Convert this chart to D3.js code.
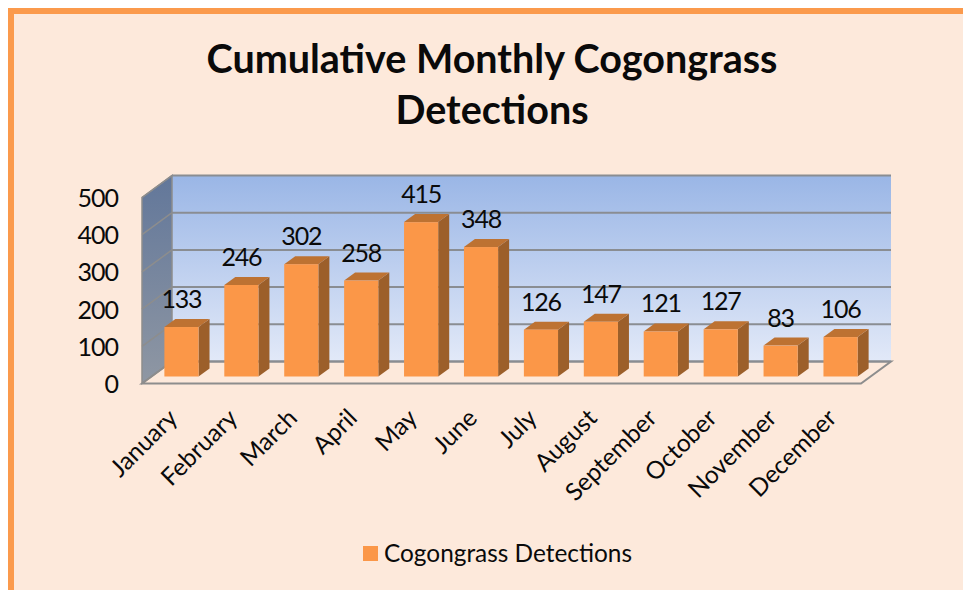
<!DOCTYPE html>
<html>
<head>
<meta charset="utf-8">
<script src="https://cdn.jsdelivr.net/npm/d3@7"></script>
<style>
  html, body { margin: 0; padding: 0; background: #fff; }
  text { font-family: Lato, "Open Sans", sans-serif; fill: #0a0a0a; }
</style>
</head>
<body>
<div id="chart"></div>
<script>
const months = ['January', 'February', 'March', 'April', 'May', 'June', 'July', 'August', 'September', 'October', 'November', 'December'];
const detections = [133, 246, 302, 258, 415, 348, 126, 147, 121, 127, 83, 106];
const yTicks = [0, 100, 200, 300, 400, 500];
const titleLines = ['Cumulative Monthly Cogongrass', 'Detections'];
const seriesName = 'Cogongrass Detections';

const width = 963;
const height = 590;

// front edge of the floor, everything else is offset from it
const x = d3.scaleBand().domain(months).range([142, 861]).paddingInner(0.43).paddingOuter(0.215);
const y = d3.scaleLinear().domain([0, 500]).range([383.5, 197.5]);

// wall depth and bar depth (pseudo 3d)
const wallDx = 30, wallDy = -22;
const barDx = 11, barDy = -8;
// where the bars stand inside the floor
const standDx = 9.5, standDy = -7;

const svg = d3.select('#chart').append('svg')
    .attr('width', width)
    .attr('height', height)
    .style('display', 'block');

const defs = svg.append('defs');

const wallGrad = defs.append('linearGradient')
    .attr('id', 'wallGrad').attr('x1', 0).attr('y1', 0).attr('x2', 0).attr('y2', 1);
wallGrad.append('stop').attr('offset', '0%').attr('stop-color', '#9ab6e6');
wallGrad.append('stop').attr('offset', '100%').attr('stop-color', '#e2e9f8');

const sideGrad = defs.append('linearGradient')
    .attr('id', 'sideGrad').attr('x1', 0).attr('y1', 0).attr('x2', 0).attr('y2', 1);
sideGrad.append('stop').attr('offset', '0%').attr('stop-color', '#62779a');
sideGrad.append('stop').attr('offset', '100%').attr('stop-color', '#8f97a3');

// panel
svg.append('rect')
    .attr('x', 8).attr('y', 8)
    .attr('width', width).attr('height', height)
    .attr('fill', '#fb9a4c');
svg.append('rect')
    .attr('x', 14).attr('y', 14)
    .attr('width', width).attr('height', height)
    .attr('fill', '#fde9db');

// title
svg.selectAll('.title')
    .data(titleLines)
    .enter().append('text')
    .attr('class', 'title')
    .attr('x', 492)
    .attr('y', (d, i) => 73 + i * 51)
    .attr('text-anchor', 'middle')
    .style('font-size', '39.5px')
    .style('font-weight', 'bold')
    .text(d => d);

// walls and floor
const x0 = x.range()[0], x1 = x.range()[1];
const poly = pts => pts.map(p => p.join(',')).join(' ');

svg.append('polygon')
    .attr('points', poly([[x0 + wallDx, y(500) + wallDy], [x1 + wallDx, y(500) + wallDy], [x1 + wallDx, y(0) + wallDy], [x0 + wallDx, y(0) + wallDy]]))
    .attr('fill', 'url(#wallGrad)');

svg.append('polygon')
    .attr('points', poly([[x0, y(500)], [x0 + wallDx, y(500) + wallDy], [x0 + wallDx, y(0) + wallDy], [x0, y(0)]]))
    .attr('fill', 'url(#sideGrad)')
    .attr('stroke', '#8d8d8d')
    .attr('stroke-width', 1.5);

svg.append('polygon')
    .attr('points', poly([[x0, y(0)], [x0 + wallDx, y(0) + wallDy], [x1 + wallDx, y(0) + wallDy], [x1, y(0)]]))
    .attr('fill', '#fde9db')
    .attr('stroke', '#8d8d8d')
    .attr('stroke-width', 2);

// gridlines on back wall and side wall
svg.selectAll('.grid')
    .data(yTicks)
    .enter().append('line')
    .attr('class', 'grid')
    .attr('x1', x0 + wallDx).attr('x2', x1 + wallDx)
    .attr('y1', d => y(d) + wallDy).attr('y2', d => y(d) + wallDy)
    .attr('stroke', '#8a8d92')
    .attr('stroke-width', 2);

svg.selectAll('.side-grid')
    .data(yTicks)
    .enter().append('line')
    .attr('class', 'side-grid')
    .attr('x1', x0).attr('x2', x0 + wallDx)
    .attr('y1', d => y(d)).attr('y2', d => y(d) + wallDy)
    .attr('stroke', '#8d8d8d')
    .attr('stroke-width', 1.5);

// bars
const bars = svg.selectAll('.bar')
    .data(months.map((m, i) => ({ month: m, value: detections[i] })))
    .enter().append('g')
    .attr('class', 'bar')
    .attr('transform', d => `translate(${x(d.month) + standDx},${standDy})`);

const bw = x.bandwidth();

bars.append('polygon')
    .attr('points', d => poly([[bw, y(d.value)], [bw + barDx, y(d.value) + barDy], [bw + barDx, y(0) + barDy], [bw, y(0)]]))
    .attr('fill', '#9c5f2a');

bars.append('polygon')
    .attr('points', d => poly([[0, y(d.value)], [barDx, y(d.value) + barDy], [bw + barDx, y(d.value) + barDy], [bw, y(d.value)]]))
    .attr('fill', '#bd7232');

bars.append('rect')
    .attr('x', 0)
    .attr('y', d => y(d.value))
    .attr('width', bw)
    .attr('height', d => y(0) - y(d.value))
    .attr('fill', '#fb9748');

// value labels
bars.append('text')
    .attr('x', bw / 2)
    .attr('y', d => y(d.value) + barDy - 11)
    .attr('text-anchor', 'middle')
    .style('font-size', '25px')
    .style('letter-spacing', '-1.2px')
    .text(d => d.value);

// y axis labels
svg.selectAll('.y-label')
    .data(yTicks)
    .enter().append('text')
    .attr('class', 'y-label')
    .attr('x', 118)
    .attr('y', d => y(d) + 9.5)
    .attr('text-anchor', 'end')
    .style('font-size', '25px')
    .style('letter-spacing', '-1px')
    .text(d => d);

// x axis labels, rotated
svg.selectAll('.x-label')
    .data(months)
    .enter().append('text')
    .attr('class', 'x-label')
    .attr('transform', d => `translate(${x(d) + x.bandwidth() / 2 + 7},${y(0) + 36}) rotate(-45)`)
    .attr('text-anchor', 'end')
    .style('font-size', '24.5px')
    .text(d => d);

// legend
svg.append('rect')
    .attr('x', 363).attr('y', 546)
    .attr('width', 15).attr('height', 15)
    .attr('fill', '#fb9748');

svg.append('text')
    .attr('x', 384)
    .attr('y', 562)
    .style('font-size', '24.4px')
    .text(seriesName);
</script>
</body>
</html>
